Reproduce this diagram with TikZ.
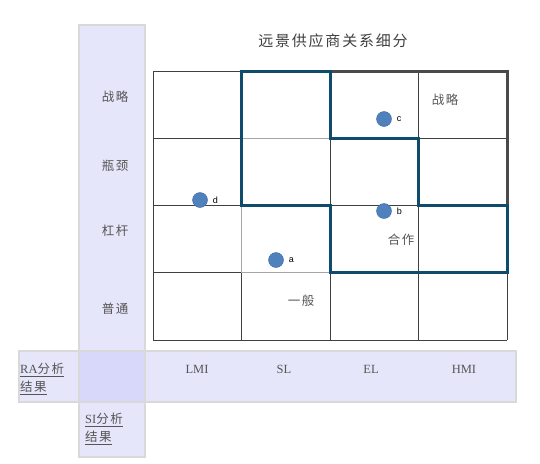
\documentclass[tikz,border=0pt]{standalone}
\usepackage{fontspec}
\setmainfont{Liberation Serif}
\setsansfont{Liberation Sans}
\newfontfamily\cjk[LetterSpace=12]{Noto Sans CJK SC}
\usetikzlibrary{positioning}

\definecolor{frameTeal}{HTML}{0F4C6B}
\definecolor{frameGray}{HTML}{4A4A4A}
\definecolor{gridGray}{HTML}{404040}
\definecolor{bandFill}{HTML}{E6E6FB}
\definecolor{bandCross}{HTML}{D8D8FA}
\definecolor{bandLine}{HTML}{D9D9D9}
\definecolor{dotBlue}{HTML}{4F81BD}
\definecolor{textGray}{HTML}{555555}

\begin{document}
\begin{tikzpicture}[
      x=1pt, y=-1pt,
      gridline/.style={draw=gridGray, line width=0.9pt},
      softline/.style={draw=black!35, line width=1pt},
      band/.style={fill=bandFill},
      bandedge/.style={draw=bandLine, line width=2.5pt},
      rowlab/.style={font=\cjk\fontsize{12.5}{14}\selectfont, text=textGray},
      collab/.style={font=\fontsize{12.5}{14}\selectfont, text=textGray},
      axislab/.style={font=\fontsize{12.5}{18}\selectfont, text=textGray, align=left, inner sep=1pt, anchor=west},
      supplier/.style={circle, fill=dotBlue, draw=dotBlue!80!black, line width=0.4pt, minimum size=15pt, inner sep=0pt},
      tag/.style={font=\sffamily\fontsize{9}{10}\selectfont, inner sep=0pt}
   ]
   \useasboundingbox (0,0) rectangle (540,463);

   % Axis bands
   \fill[band] (79,25) rectangle (145,457);
   \fill[band] (19,351) rectangle (516,402);
   \fill[bandCross] (79,351) rectangle (145,402);
   \draw[bandedge] (79,25) rectangle (145,457);
   \draw[bandedge] (19,351) rectangle (516,402);

   % Grid corners
   \foreach \i in {0,...,4}
      \foreach \j in {0,...,4}
         \coordinate (g\i\j) at ({153+88.5*\i},{71+67.25*\j});

   % 4x4 matrix
   \foreach \i in {0,...,4}
      \draw[gridline] (g\i0) -- (g\i4);
   \foreach \j in {0,...,4}
      \draw[gridline] (g0\j) -- (g4\j);
   \draw[softline] (g11) -- (g21);
   \draw[softline] (g12) -- (g13) -- (g23);

   % Strategic region
   \draw[frameGray, line width=3pt] (g20) -- (g40) -- (g42) -- (g32) -- (g31) -- (g21) -- cycle;
   % Cooperation region
   \draw[frameTeal, line width=3pt, line join=miter] (g12) -- (g10) -- (g20) -- (g21) -- (g31) -- (g32)
      -- (g42) -- (g43) -- (g23) -- (g22) -- cycle;

   % Title
   \node[font=\cjk\fontsize{15}{18}\selectfont, text=gridGray] (title) at (333,41) {远景供应商关系细分};

   % Row labels
   \node[rowlab] (strat) at (115,97) {战略};
   \node[rowlab] (bottle) at (115,166) {瓶颈};
   \node[rowlab] (lever) at (115,231) {杠杆};
   \node[rowlab] (routine) at (115,309) {普通};

   % Column labels
   \node[collab] (lmi) at (197,369) {LMI};
   \node[collab] (sl) at (284,369) {SL};
   \node[collab] (el) at (371,369) {EL};
   \node[collab] (hmi) at (464,369) {HMI};

   % Axis titles
   \node[axislab] (ra) at (19,379) {\underline{RA{\cjk 分析}}\\\underline{{\cjk 结果}}};
   \node[axislab] (si) at (84,429) {\underline{SI{\cjk 分析}}\\\underline{{\cjk 结果}}};

   % Region names
   \node[rowlab] (zone-s) at (445,100) {战略};
   \node[rowlab] (zone-c) at (401,240) {合作};
   \node[rowlab] (zone-g) at (301,301) {一般};

   % Suppliers
   \node[supplier] (pa) at (276,260) {};
   \node[supplier] (pb) at (384,211) {};
   \node[supplier] (pc) at (384,119) {};
   \node[supplier] (pd) at (200,200) {};
   \node[tag, right=5pt of pa] (la) {a};
   \node[tag, right=5pt of pb] (lb) {b};
   \node[tag, right=5pt of pc] (lc) {c};
   \node[tag, right=5pt of pd] (ld) {d};
\end{tikzpicture}
\end{document}
